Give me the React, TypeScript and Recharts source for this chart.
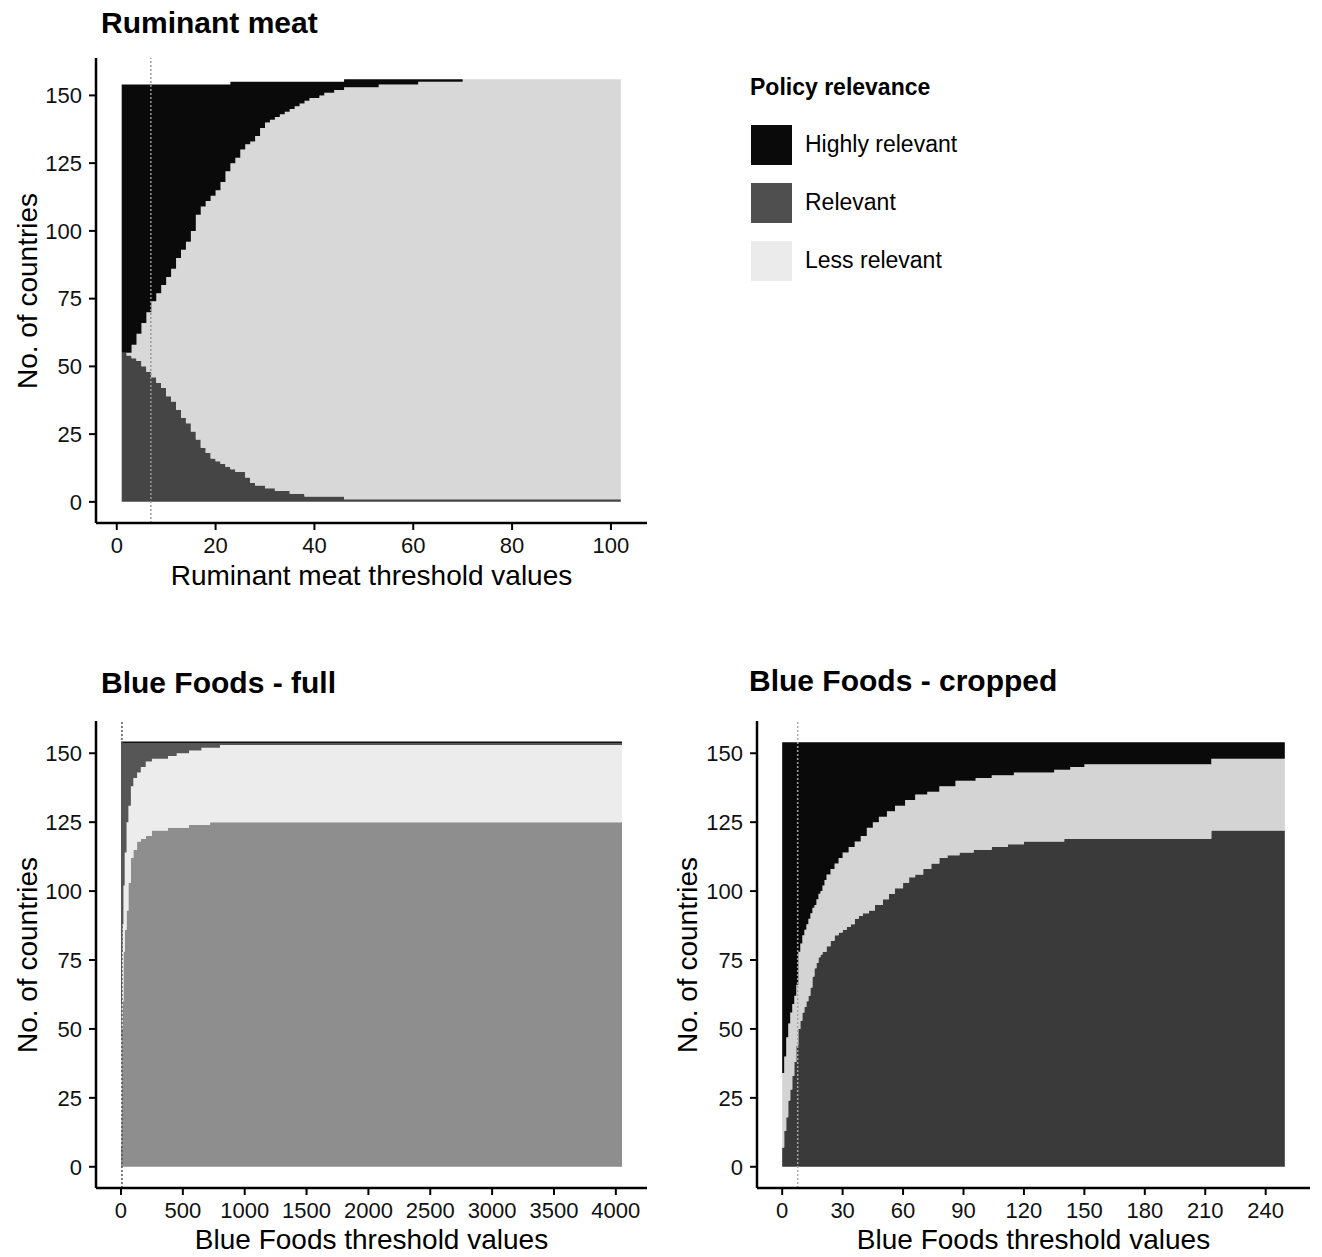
import React from 'react';
import { AreaChart, Area, XAxis, YAxis, ReferenceLine } from 'recharts';

const FONT = '"Liberation Sans", Arial, Helvetica, sans-serif';

const seriesNames = ['Highly relevant', 'Relevant', 'Less relevant'];
const legendTitle = 'Policy relevance';
const yTicks = [0, 25, 50, 75, 100, 125, 150];

// ---------- Ruminant meat ----------
const ruminantThreshold = [1, 2, 3, 4, 5, 6, 7, 8, 9, 10, 11, 12, 13, 14, 15, 16, 17, 18, 19, 20, 21, 22, 23, 24, 25, 26, 27, 28, 29, 30, 31, 32, 33, 34, 35, 36, 37, 38, 39, 40, 41, 42, 43, 44, 45, 46, 53, 61, 70, 102];
const ruminantRelevant = [55, 54, 53, 52, 50, 48, 46, 44, 42, 39, 37, 34, 31, 29, 26, 23, 20, 18, 16, 15, 14, 13, 12, 11, 11, 9, 7, 6, 6, 5, 5, 4, 4, 4, 3, 3, 3, 2, 2, 2, 2, 2, 2, 2, 2, 1, 1, 1, 1, 1];
const ruminantLess = [0, 1, 5, 10, 16, 22, 28, 33, 38, 44, 49, 56, 62, 67, 74, 83, 89, 93, 97, 100, 104, 109, 113, 116, 119, 123, 126, 129, 132, 135, 136, 138, 139, 140, 142, 143, 144, 146, 147, 147, 148, 149, 149, 150, 150, 152, 153, 154, 155, 155];
const ruminantHighly = [99, 99, 96, 92, 88, 84, 80, 77, 74, 71, 68, 64, 61, 58, 54, 48, 45, 43, 41, 39, 36, 32, 30, 28, 25, 23, 22, 20, 17, 15, 14, 13, 12, 11, 10, 9, 8, 7, 6, 6, 5, 4, 4, 3, 3, 3, 2, 1, 0, 0];
const ruminantXTicks = [0, 20, 40, 60, 80, 100];
const ruminantMarker = 6.9;

// ---------- Blue Foods - full ----------
const fullThreshold = [0, 2, 5, 8, 12, 20, 30, 45, 60, 80, 100, 130, 160, 200, 250, 380, 450, 550, 650, 720, 800, 4050];
const fullRelevant = [7, 18, 33, 50, 60, 78, 86, 93, 103, 112, 115, 118, 119, 120, 122, 123, 123, 124, 124, 125, 125, 125];
const fullLess = [27, 29, 26, 28, 28, 24, 28, 32, 28, 26, 26, 25, 26, 27, 26, 26, 27, 27, 28, 27, 28, 28];
const fullHighly = [120, 107, 95, 76, 66, 52, 40, 29, 23, 16, 13, 11, 9, 7, 6, 5, 4, 3, 2, 2, 1, 1];
const fullXTicks = [0, 500, 1000, 1500, 2000, 2500, 3000, 3500, 4000];
const fullMarker = 7.7;

// ---------- Blue Foods - cropped ----------
const cropThreshold = [0, 1, 2, 3, 4, 5, 6, 7, 8, 9, 10, 11, 12, 13, 14, 15, 16, 17, 18, 19, 20, 21, 22, 24, 26, 28, 30, 32, 33, 34, 36, 38, 39, 40, 42, 43, 45, 46, 48, 50, 52, 53, 56, 60, 61, 63, 66, 70, 72, 74, 78, 82, 86, 88, 95, 96, 104, 112, 115, 120, 135, 140, 143, 150, 213, 249.5];
const cropRelevant = [7, 13, 18, 24, 28, 33, 38, 44, 50, 53, 56, 58, 60, 62, 65, 69, 72, 74, 76, 77, 78, 78, 80, 82, 84, 85, 86, 87, 87, 88, 90, 91, 91, 92, 92, 93, 93, 95, 95, 97, 97, 99, 101, 103, 103, 105, 106, 108, 108, 110, 112, 113, 113, 114, 115, 115, 116, 117, 117, 118, 118, 119, 119, 119, 122, 122];
const cropLess = [27, 27, 29, 28, 28, 26, 24, 22, 28, 28, 28, 28, 28, 28, 27, 25, 23, 23, 23, 23, 24, 26, 26, 26, 26, 27, 28, 27, 29, 28, 28, 27, 29, 28, 31, 30, 32, 30, 32, 30, 32, 30, 30, 28, 30, 28, 29, 27, 28, 26, 26, 25, 27, 26, 25, 26, 26, 25, 26, 25, 26, 25, 26, 27, 26, 26];
const cropHighly = [120, 114, 107, 102, 98, 95, 92, 88, 76, 73, 70, 68, 66, 64, 62, 60, 59, 57, 55, 54, 52, 50, 48, 46, 44, 42, 40, 40, 38, 38, 36, 36, 34, 34, 31, 31, 29, 29, 27, 27, 25, 25, 23, 23, 21, 21, 19, 19, 18, 18, 16, 16, 14, 14, 14, 13, 12, 12, 11, 11, 10, 10, 9, 8, 6, 6];
const cropXTicks = [0, 30, 60, 90, 120, 150, 180, 210, 240];
const cropMarker = 7.7;

type Row = { x: number; relevant: number; less: number; highly: number };

function buildRows(xs: number[], rel: number[], less: number[], high: number[]): Row[] {
  return xs.map((x, i) => ({ x, relevant: rel[i], less: less[i], highly: high[i] }));
}

const ruminantRows = buildRows(ruminantThreshold, ruminantRelevant, ruminantLess, ruminantHighly);
const fullRows = buildRows(fullThreshold, fullRelevant, fullLess, fullHighly);
const cropRows = buildRows(cropThreshold, cropRelevant, cropLess, cropHighly);

type Colors = { highly: string; relevant: string; less: string };

type PanelProps = {
  left: number;
  top: number;
  width: number;
  height: number;
  marginTop: number;
  marginRight: number;
  yAxisWidth: number;
  rows: Row[];
  xDomain: [number, number];
  yDomain: [number, number];
  xTicks: number[];
  marker: number;
  colors: Colors;
  highlyStroke?: string;
  markerColor: string;
};

const tickStyle = { fill: '#111', fontSize: 22, fontFamily: FONT };

function Panel(p: PanelProps) {
  return (
    <div style={{ position: 'absolute', left: p.left, top: p.top }}>
      <AreaChart
        width={p.width}
        height={p.height}
        data={p.rows}
        margin={{ top: p.marginTop, right: p.marginRight, bottom: 0, left: 0 }}
      >
        <XAxis
          type="number"
          dataKey="x"
          domain={p.xDomain}
          allowDataOverflow
          ticks={p.xTicks}
          interval={0}
          height={37}
          tickSize={7}
          tickMargin={7}
          axisLine={{ stroke: '#000', strokeWidth: 2.5 }}
          tickLine={{ stroke: '#000', strokeWidth: 2 }}
          tick={tickStyle}
        />
        <YAxis
          type="number"
          domain={p.yDomain}
          allowDataOverflow
          ticks={yTicks}
          interval={0}
          width={p.yAxisWidth}
          tickSize={7}
          tickMargin={7}
          axisLine={{ stroke: '#000', strokeWidth: 2.5 }}
          tickLine={{ stroke: '#000', strokeWidth: 2 }}
          tick={tickStyle}
        />
        <Area
          type="stepAfter"
          dataKey="relevant"
          stackId="s"
          fill={p.colors.relevant}
          fillOpacity={1}
          stroke="none"
          dot={false}
          activeDot={false}
          isAnimationActive={false}
        />
        <Area
          type="stepAfter"
          dataKey="less"
          stackId="s"
          fill={p.colors.less}
          fillOpacity={1}
          stroke="none"
          dot={false}
          activeDot={false}
          isAnimationActive={false}
        />
        <Area
          type="stepAfter"
          dataKey="highly"
          stackId="s"
          fill={p.colors.highly}
          fillOpacity={1}
          stroke={p.highlyStroke ?? 'none'}
          strokeWidth={1.5}
          dot={false}
          activeDot={false}
          isAnimationActive={false}
        />
        <ReferenceLine
          x={p.marker}
          stroke={p.markerColor}
          strokeWidth={1.5}
          strokeDasharray="2 2"
        />
      </AreaChart>
    </div>
  );
}

type TxtProps = {
  x: number;
  y: number;
  size: number;
  bold?: boolean;
  center?: boolean;
  rotate?: boolean;
  children: React.ReactNode;
};

function Txt({ x, y, size, bold, center, rotate, children }: TxtProps) {
  const w = 700;
  const h = Math.round(size * 1.3);
  const style: React.CSSProperties = {
    position: 'absolute',
    left: center || rotate ? x - w / 2 : x,
    top: y - h / 2,
    width: w,
    height: h,
    lineHeight: `${h}px`,
    fontSize: size,
    fontWeight: bold ? 700 : 400,
    fontFamily: FONT,
    textAlign: center || rotate ? 'center' : 'left',
    whiteSpace: 'nowrap',
    color: '#000',
  };
  if (rotate) style.transform = 'rotate(-90deg)';
  return <div style={style}>{children}</div>;
}

const legendColors = ['#0a0a0a', '#4f4f4f', '#ebebeb'];
const legendKeyTops = [125, 183, 241];

export default function App() {
  return (
    <div
      style={{
        position: 'absolute',
        left: 0,
        top: 0,
        width: 1322,
        height: 1257,
        background: '#fff',
        overflow: 'hidden',
      }}
    >
      {/* Ruminant meat */}
      <Txt x={101} y={22.5} size={30} bold>Ruminant meat</Txt>
      <Panel
        left={0}
        top={0}
        width={660}
        height={560}
        marginTop={58}
        marginRight={13}
        yAxisWidth={96}
        rows={ruminantRows}
        xDomain={[-4.2, 107.3]}
        yDomain={[-7.8, 163.8]}
        xTicks={ruminantXTicks}
        marker={ruminantMarker}
        colors={{ highly: '#0a0a0a', relevant: '#454545', less: '#d8d8d8' }}
        markerColor="#9a9a9a"
      />
      <Txt x={371.5} y={576} size={28} center>Ruminant meat threshold values</Txt>
      <Txt x={28} y={290.5} size={28} rotate>No. of countries</Txt>

      {/* Legend */}
      <Txt x={750} y={87} size={23} bold>{legendTitle}</Txt>
      {seriesNames.map((name, i) => (
        <React.Fragment key={name}>
          <div
            style={{
              position: 'absolute',
              left: 751,
              top: legendKeyTops[i],
              width: 41,
              height: 40,
              background: legendColors[i],
            }}
          />
          <Txt x={805} y={legendKeyTops[i] + 19} size={23}>{name}</Txt>
        </React.Fragment>
      ))}

      {/* Blue Foods - full */}
      <Txt x={101} y={682} size={30} bold>Blue Foods - full</Txt>
      <Panel
        left={0}
        top={660}
        width={660}
        height={565}
        marginTop={61}
        marginRight={13}
        yAxisWidth={96}
        rows={fullRows}
        xDomain={[-202, 4252]}
        yDomain={[-7.7, 161.7]}
        xTicks={fullXTicks}
        marker={fullMarker}
        colors={{ highly: '#565656', relevant: '#8e8e8e', less: '#ececec' }}
        highlyStroke="#111"
        markerColor="#555"
      />
      <Txt x={371.5} y={1240} size={28} center>Blue Foods threshold values</Txt>
      <Txt x={28} y={954.5} size={28} rotate>No. of countries</Txt>

      {/* Blue Foods - cropped */}
      <Txt x={749} y={680} size={30} bold>Blue Foods - cropped</Txt>
      <Panel
        left={660}
        top={660}
        width={662}
        height={565}
        marginTop={61}
        marginRight={12}
        yAxisWidth={97}
        rows={cropRows}
        xDomain={[-12.5, 262]}
        yDomain={[-7.7, 161.7]}
        xTicks={cropXTicks}
        marker={cropMarker}
        colors={{ highly: '#0a0a0a', relevant: '#3a3a3a', less: '#d4d4d4' }}
        markerColor="#a5a5a5"
      />
      <Txt x={1033.5} y={1240} size={28} center>Blue Foods threshold values</Txt>
      <Txt x={688} y={954.5} size={28} rotate>No. of countries</Txt>
    </div>
  );
}
